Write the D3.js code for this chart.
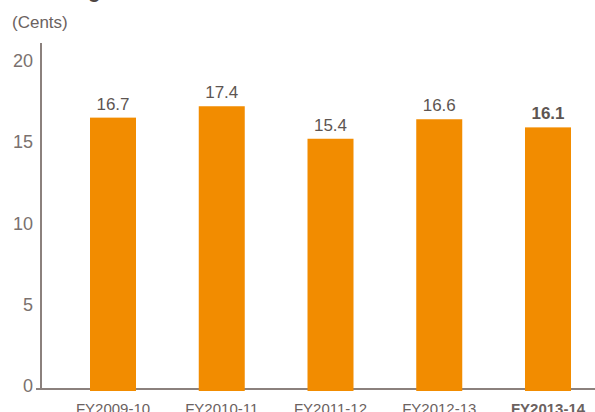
<!DOCTYPE html>
<html>
<head>
<meta charset="utf-8">
<script src="https://cdn.jsdelivr.net/npm/d3@7"></script>
<style>
  body { margin: 0; background: #fff; }
  svg { display: block; font-family: Arial, "Liberation Sans", sans-serif; }
</style>
</head>
<body>
<div id="chart"></div>
<script>
// data
const years = ['FY2009-10', 'FY2010-11', 'FY2011-12', 'FY2012-13', 'FY2013-14']
const cents = [16.7, 17.4, 15.4, 16.6, 16.1]
const yTicks = [0, 5, 10, 15, 20]

let dms = { width: 595, height: 412 }

const svg = d3.select('#chart').append('svg')
    .attr('width', dms.width)
    .attr('height', dms.height)

const xScale = d3.scalePoint()
    .domain(years)
    .range([113, 548])

const yScale = d3.scaleLinear()
    .domain([0, 20])
    .range([389, 64])

const barW = 46
const axisColor = '#8b817d'

// title, cut off at the top edge (only the descender shows)
svg.append('text')
    .attr('x', 26)
    .attr('y', -2)
    .style('font-size', '20px')
    .style('font-weight', 'bold')
    .style('fill', '#4d4542')
    .text('Earnings')

svg.append('text')
    .attr('x', 12)
    .attr('y', 28)
    .style('font-size', '17px')
    .style('fill', '#6b625f')
    .text('(Cents)')

// y axis line + labels
svg.append('line')
    .attr('x1', 41).attr('x2', 41)
    .attr('y1', 43).attr('y2', yScale(0))
    .attr('stroke', axisColor)
    .attr('stroke-width', 2)

svg.append('g').selectAll('text')
    .data(yTicks)
    .join('text')
    .attr('x', 33)
    .attr('y', d => yScale(d) + 3)
    .attr('text-anchor', 'end')
    .style('font-size', '18px')
    .style('fill', '#7a716e')
    .text(d => d)

// baseline
svg.append('line')
    .attr('x1', 36).attr('x2', 595)
    .attr('y1', yScale(0)).attr('y2', yScale(0))
    .attr('stroke', axisColor)
    .attr('stroke-width', 2)

// bars
svg.append('g').selectAll('rect')
    .data(cents)
    .join('rect')
    .attr('x', (d, i) => xScale(years[i]) - barW / 2)
    .attr('y', d => yScale(d))
    .attr('width', barW)
    .attr('height', d => yScale(0) - yScale(d) + 2)
    .style('fill', '#f28c00')

// value labels
svg.append('g').selectAll('text')
    .data(cents)
    .join('text')
    .attr('x', (d, i) => xScale(years[i]))
    .attr('y', d => yScale(d) - 8)
    .attr('text-anchor', 'middle')
    .style('font-size', '17px')
    .style('font-weight', (d, i) => i === cents.length - 1 ? 'bold' : 'normal')
    .style('fill', '#5d5552')
    .text(d => d.toFixed(1))

// category labels (cut at the bottom edge, as in the original)
svg.append('g').selectAll('text')
    .data(years)
    .join('text')
    .attr('x', d => xScale(d))
    .attr('y', 414)
    .attr('text-anchor', 'middle')
    .style('font-size', '15px')
    .style('font-weight', (d, i) => i === years.length - 1 ? 'bold' : 'normal')
    .style('fill', '#6b625f')
    .text(d => d)
</script>
</body>
</html>
